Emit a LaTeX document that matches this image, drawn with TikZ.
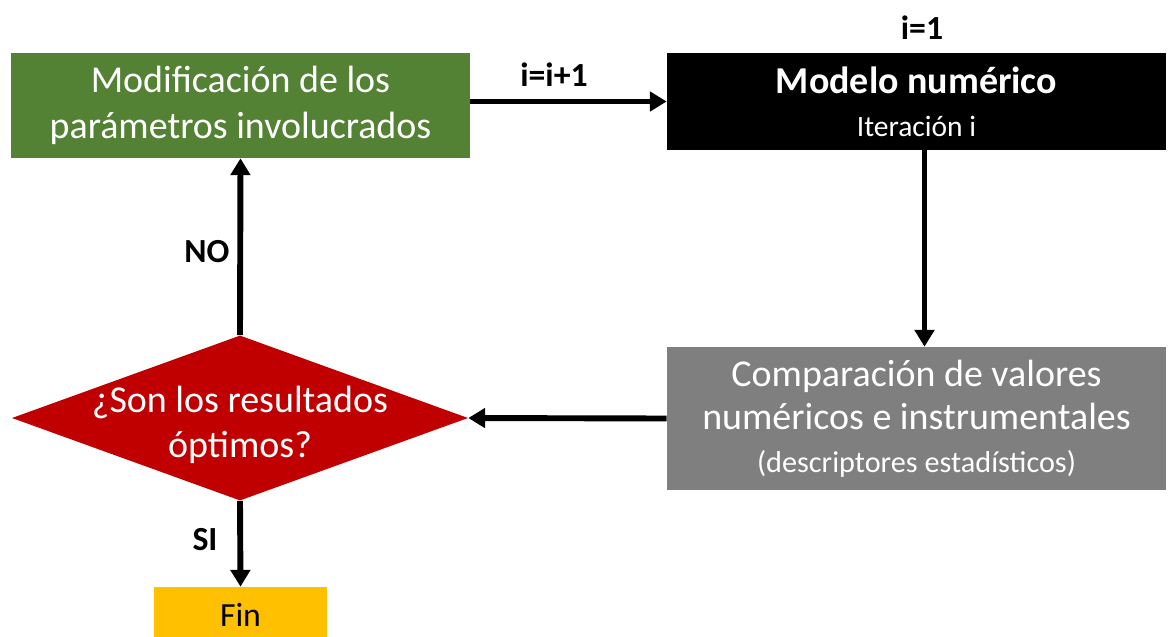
\documentclass[tikz,border=0pt]{standalone}
\usepackage{fontspec}
\setmainfont{Carlito}
\usetikzlibrary{shapes.geometric,positioning}
\usetikzlibrary{arrows.meta}
\tikzset{>={Triangle[width=4.8mm,length=4.2mm]}}

\definecolor{mgreen}{HTML}{548235}
\definecolor{mgray}{HTML}{7F7F7F}
\definecolor{mred}{HTML}{C00000}
\definecolor{myellow}{HTML}{FFC000}

\begin{document}
\begin{tikzpicture}[x=0.025cm, y=-0.025cm]
    \useasboundingbox (0,0) rectangle (1176,637);

    \tikzstyle{mnode} = [rectangle, fill=mgreen, text=white, align=center, inner sep=0pt,
      minimum width=11.475cm, minimum height=2.625cm, font=\fontsize{27}{33}\selectfont]
    \tikzstyle{knode} = [rectangle, fill=black, text=white, align=center, inner sep=0pt,
      minimum width=12.475cm, minimum height=2.425cm, font=\fontsize{27}{30.5}\selectfont]
    \tikzstyle{pnode} = [rectangle, fill=mgray, text=white, align=center, inner sep=0pt,
      minimum width=12.475cm, minimum height=3.575cm, font=\fontsize{27}{31}\selectfont]
    \tikzstyle{dnode} = [diamond, fill=mred, inner sep=0pt, aspect=2.76,
      minimum width=11.4cm, minimum height=4.125cm]
    \tikzstyle{fnode} = [rectangle, fill=myellow, inner sep=0pt,
      minimum width=4.325cm, minimum height=1.4cm, font=\fontsize{24}{28}\selectfont]
    \tikzstyle{lnode} = [inner sep=0pt, font=\bfseries\fontsize{24}{28}\selectfont]
    \tikzstyle{flow} = [->, line width=4.2pt]

    \node[mnode] (mod) at (240.5,105.5) {Modificación de los\\parámetros involucrados};
    \node[knode] (num) at (916.5,101.5)
      {\bfseries Modelo numérico\\
       {\fontsize{21}{30.5}\selectfont Iteración i}};
    \node[pnode] (cmp) at (916.5,418.5)
      {Comparación de valores\\
       numéricos e instrumentales\\[-1pt]
       {\fontsize{21.5}{31}\selectfont (descriptores estadísticos)}};
    \node[dnode, label={[text=white, align=center, yshift=-0.18cm, font=\fontsize{27}{32}\selectfont]center:¿Son los resultados\\óptimos?}] (dec) at (240,418) {};
    \node[fnode] (fin) at (240.5,615) {Fin};

    \node[lnode] (ini) at (922,28) {i=1};
    \node[lnode] (inc) at (554,75) {i=i+1};
    \node[lnode] (no) at (207,252) {NO};
    \node[lnode] (si) at (205,540) {SI};

    % flow
    \draw[flow] (mod.east |- num.west) -- (num.west);
    \draw[flow] ([xshift=0.2cm]num.south) -- ([xshift=0.2cm]cmp.north);
    \draw[flow] (cmp.west) -- (dec.east);
    \draw[flow] (dec.north) -- (mod.south);
    \draw[flow] (dec.south) -- (fin.north);
\end{tikzpicture}
\end{document}
